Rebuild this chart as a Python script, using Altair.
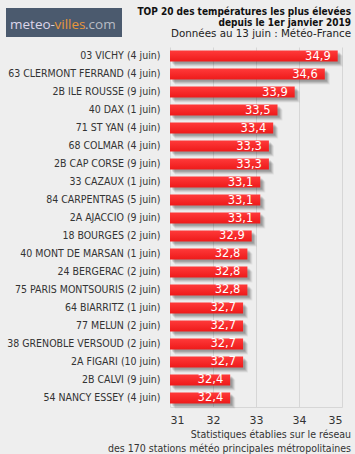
import altair as alt
import pandas as pd

stations = [
    "03 VICHY (4 juin)", "63 CLERMONT FERRAND (4 juin)", "2B ILE ROUSSE (9 juin)",
    "40 DAX (1 juin)", "71 ST YAN (4 juin)", "68 COLMAR (4 juin)",
    "2B CAP CORSE (9 juin)", "33 CAZAUX (1 juin)", "84 CARPENTRAS (5 juin)",
    "2A AJACCIO (9 juin)", "18 BOURGES (2 juin)", "40 MONT DE MARSAN (1 juin)",
    "24 BERGERAC (2 juin)", "75 PARIS MONTSOURIS (2 juin)", "64 BIARRITZ (1 juin)",
    "77 MELUN (2 juin)", "38 GRENOBLE VERSOUD (2 juin)", "2A FIGARI (10 juin)",
    "2B CALVI (9 juin)", "54 NANCY ESSEY (4 juin)",
]
temps = [34.9, 34.6, 33.9, 33.5, 33.4, 33.3, 33.3, 33.1, 33.1, 33.1,
         32.9, 32.8, 32.8, 32.8, 32.7, 32.7, 32.7, 32.7, 32.4, 32.4]
x_ticks = [31, 32, 33, 34, 35]

title_lines = ["TOP 20 des températures  les plus élevées",
               "depuis  le 1er janvier  2019"]
subtitle = "Données au 13 juin : Météo-France"
footer_lines = ["Statistiques établies sur le réseau",
                "des 170 stations météo principales métropolitaines"]
logo_parts = ["meteo-", "villes", ".com"]

df = pd.DataFrame({"station": stations, "temp": temps})
df["label"] = [f"{v:.1f}".replace(".", ",") for v in temps]

FONT = "DejaVu Sans"
CFONT = "DejaVu Sans Condensed"

y_enc = alt.Y("station:N", sort=None, title=None,
              scale=alt.Scale(paddingInner=0.39, paddingOuter=0.2),
              axis=alt.Axis(ticks=False, domain=False, labelPadding=10,
                            labelFontSize=10.5, labelColor="#333333", labelFont=CFONT,
                            labelLimit=200))
x_enc = alt.X("temp:Q", title=None,
              scale=alt.Scale(domain=[31, 35], zero=False, nice=False),
              axis=alt.Axis(values=x_ticks, format="d", ticks=False, grid=True,
                            gridColor="#d6d6d6", domainColor="#d6d6d6",
                            labelPadding=7, labelFontSize=11, labelColor="#333333",
                            labelFont=FONT))

base = alt.Chart(df)

shadows = []
for off, op in [(2, 0.12), (3, 0.12), (4, 0.10), (5, 0.06)]:
    shadows.append(
        base.mark_bar(color="#000000", opacity=op, xOffset=off, x2Offset=off,
                      yOffset=off, y2Offset=off)
        .encode(x=x_enc, x2=alt.datum(31), y=y_enc)
    )

bars = base.mark_bar(
    color=alt.Gradient(gradient="linear", x1=0, y1=0, x2=0, y2=1,
                       stops=[alt.GradientStop(color="#ff3a3a", offset=0),
                              alt.GradientStop(color="#ee1a1a", offset=1)])
).encode(x=x_enc, x2=alt.datum(31), y=y_enc)

values = base.mark_text(align="right", baseline="middle", dx=-7, dy=0.5,
                        color="white", fontSize=11.5, font=FONT).encode(
    x=x_enc, y=y_enc, text="label:N")


def txt(s, x, y, **kw):
    return alt.Chart(pd.DataFrame({"t": [s]})).mark_text(**kw).encode(
        x=alt.value(x), y=alt.value(y), text="t:N")


logo_rect = alt.Chart(pd.DataFrame({"a": [0]})).mark_rect(color="#4b5a6e").encode(
    x=alt.value(-164), x2=alt.value(-48), y=alt.value(-39), y2=alt.value(-10))

LOGO = dict(align="left", fontSize=13.5, font="Open Sans")
layers = shadows + [bars, values, logo_rect,
    txt(logo_parts[0], -160, -22, color="#dcd6ea", **LOGO),
    txt(logo_parts[1], -115.5, -22, color="#e8963a", **LOGO),
    txt(logo_parts[2], -85, -22, color="#b8bcc4", **LOGO),
    txt(title_lines[0], 181, -35.5, align="right", fontSize=10, fontWeight="bold", font=CFONT, color="#111111"),
    txt(title_lines[1], 181, -24.5, align="right", fontSize=10, fontWeight="bold", font=CFONT, color="#111111"),
    txt(subtitle, 181, -13.5, align="right", fontSize=10.3, font=FONT, color="#222222"),
    txt(footer_lines[0], 181, 388, align="right", fontSize=10.5, font=CFONT, color="#333333"),
    txt(footer_lines[1], 181, 402, align="right", fontSize=10.5, font=CFONT, color="#333333"),
]

chart = alt.layer(*layers).properties(
    width=172, height=360,
    autosize=alt.AutoSizeParams(type="none"),
    padding={"left": 170, "top": 47, "right": 13, "bottom": 47},
    background="#eeeeee",
).configure_view(stroke=None)

chart.save("out.html", embed_options={"renderer": "svg", "actions": False})
